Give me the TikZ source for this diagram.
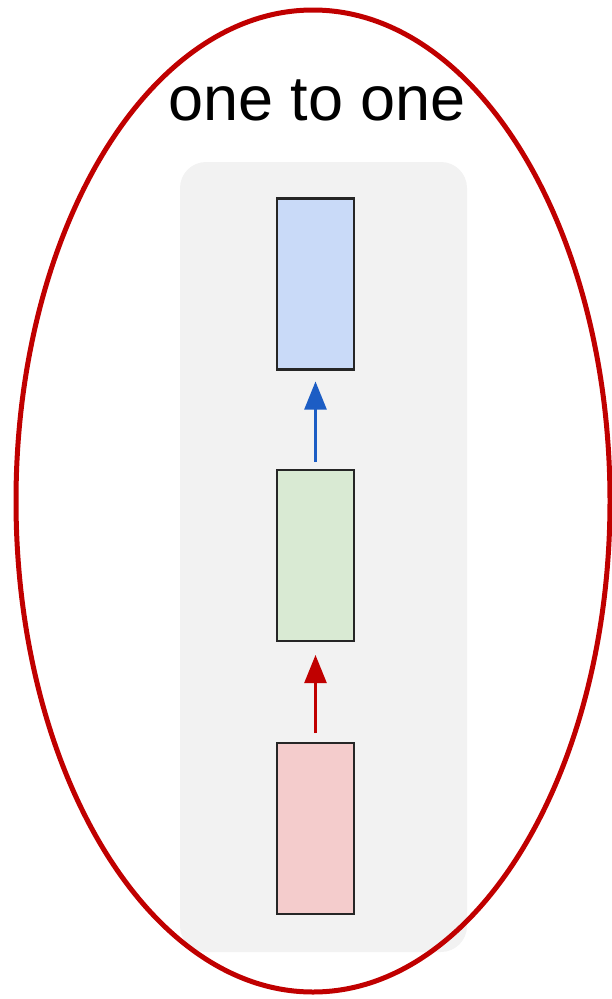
\documentclass[tikz,border=0pt]{standalone}
\usepackage{fontspec}
\setmainfont{Liberation Sans}
\usetikzlibrary{arrows.meta,shapes.geometric}
\definecolor{ellred}{HTML}{C00000}
\definecolor{panelgray}{HTML}{F2F2F2}
\definecolor{boxblue}{HTML}{C9DAF8}
\definecolor{boxgreen}{HTML}{D9EAD3}
\definecolor{boxred}{HTML}{F4CCCC}
\definecolor{arrblue}{HTML}{1C5DC4}
\definecolor{arrred}{HTML}{C00000}
\begin{document}
\begin{tikzpicture}[x=1pt,y=-1pt,
  cell/.style={draw=black!85, line width=2.6pt, minimum width=77pt, minimum height=171pt, inner sep=0pt, outer sep=0pt},
  flow/.style={line width=2.5pt, -{Triangle[length=28pt,width=22pt]}}]
\useasboundingbox (0,0) rectangle (612,999);
\node[fill=panelgray, rounded corners=26pt, minimum width=287pt, minimum height=790pt, inner sep=0pt] (panel) at (323.5,557) {};
\node[draw=ellred, line width=5pt, ellipse, minimum width=594pt, minimum height=982pt, inner sep=0pt] (ring) at (313,501) {};
\node[font=\fontsize{63}{70}\selectfont, anchor=base] (title) at (317,120) {one to one};
\node[cell, fill=boxblue] (top) at (315.5,284) {};
\node[cell, fill=boxgreen] (mid) at (315.5,555.5) {};
\node[cell, fill=boxred] (bot) at (315.5,828.5) {};
\draw[flow, draw=arrblue, fill=arrblue] ([yshift=8pt]mid.north) -- ([yshift=-12pt]top.south);
\draw[flow, draw=arrred, fill=arrred] ([yshift=10pt]bot.north) -- ([yshift=-14pt]mid.south);
\end{tikzpicture}
\end{document}
